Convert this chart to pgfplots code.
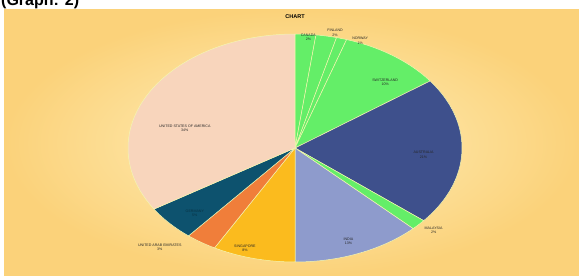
\documentclass[border=0pt]{standalone}
\usepackage{pgfplots}
\usepackage{pgfplotstable}
\pgfplotsset{compat=1.18}
\usepackage{fontspec}
\setmainfont{Liberation Sans}
\setsansfont{Liberation Sans}
\definecolor{cPeach}{HTML}{F8D5BC}
\definecolor{cGreen}{HTML}{64EE68}
\definecolor{cNavy}{HTML}{3E508C}
\definecolor{cLav}{HTML}{8E9BCC}
\definecolor{cGold}{HTML}{FBBB1E}
\definecolor{cOrange}{HTML}{F07E3A}
\definecolor{cTeal}{HTML}{0D526E}
\definecolor{cEdge}{HTML}{F4F6B0}
\definecolor{bgIn}{HTML}{FFF0BE}
\definecolor{bgOut}{HTML}{FBD27A}
\pgfplotstableread{
val col
2 cGreen
2 cGreen
1 cGreen
10 cGreen
21 cNavy
1.5 cGreen
12.5 cLav
8 cGold
3 cOrange
5 cTeal
34 cPeach
}\piedata
\begin{document}
\begin{tikzpicture}[x=1pt,y=1pt]
\clip (0,0) rectangle (579,276);
\fill[white] (0,0) rectangle (579,276);
\shade[inner color=bgIn, outer color=bgOut] (4,0) rectangle (579,266);
\node[anchor=base west, inner sep=0pt, font=\bfseries\fontsize{16}{16}\selectfont] at (1,270) {(Graph: 2)};
\node[font=\bfseries\fontsize{5.5}{6}\selectfont] at (295,259) {CHART};
\begin{axis}[at={(94.6pt,2.6pt)}, anchor=south west, x=167pt, y=114pt, hide axis,
  xmin=-1.2, xmax=1.2, ymin=-1.1, ymax=1.1, clip=false, scale only axis]
\def\cum{0}
\pgfplotsforeachungrouped \i in {0,...,10}{%
  \pgfplotstablegetelem{\i}{val}\of\piedata \let\v=\pgfplotsretval
  \pgfplotstablegetelem{\i}{col}\of\piedata \let\c=\pgfplotsretval
  \pgfmathsetmacro\start{\cum}%
  \pgfmathsetmacro\cum{\cum+3.6*\v}%
  \edef\cmd{\noexpand\addplot[fill=\c, draw=cEdge, line width=0.5pt, domain=\start:\cum, samples=60, variable=\noexpand\t]
    ({sin(\noexpand\t)},{cos(\noexpand\t)}) -- (axis cs:0,0) -- cycle;}%
  \cmd
}
\tikzset{lab/.style={font=\fontsize{3.6}{4.2}\selectfont, align=center, text=black!85}}
\node[lab] at (axis cs:0.08,0.97) {CANADA\\2\%};
\node[lab] at (axis cs:0.24,1.01) {FINLAND\\2\%};
\node[lab] at (axis cs:0.39,0.94) {NORWAY\\1\%};
\node[lab] at (axis cs:0.54,0.58) {SWITZERLAND\\10\%};
\node[lab] at (axis cs:0.77,-0.06) {AUSTRALIA\\21\%};
\node[lab] at (axis cs:0.83,-0.72) {MALAYSIA\\2\%};
\node[lab] at (axis cs:0.32,-0.82) {INDIA\\13\%};
\node[lab] at (axis cs:-0.30,-0.88) {SINGAPORE\\8\%};
\node[lab] at (axis cs:-0.81,-0.87) {UNITED ARAB EMIRATES\\3\%};
\node[lab, text=cTeal!60!black] at (axis cs:-0.60,-0.57) {GERMANY\\5\%};
\node[lab] at (axis cs:-0.66,0.17) {UNITED STATES OF AMERICA\\34\%};
\end{axis}
\end{tikzpicture}
\end{document}
